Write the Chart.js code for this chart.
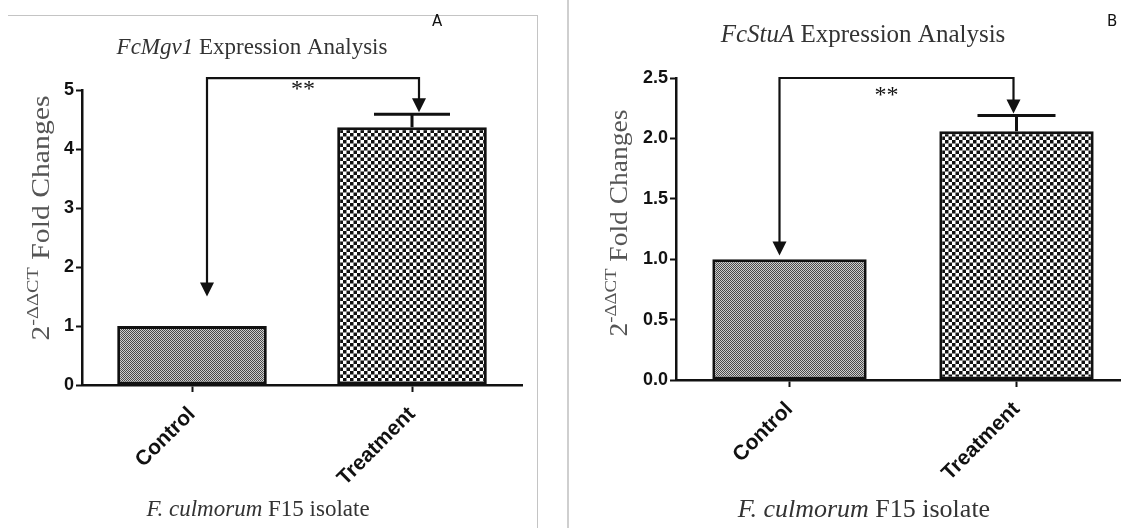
<!DOCTYPE html>
<html>
<head>
<meta charset="utf-8">
<script src="https://cdn.jsdelivr.net/npm/chart.js@4.4.0/dist/chart.umd.min.js"></script>
<style>
  html, body { margin: 0; padding: 0; background: #fff; width: 1121px; height: 528px; overflow: hidden; }
  canvas { position: absolute; top: 0; }
  #chartA { left: 0; }
  #chartB { left: 560px; }
  .frameA { position: absolute; left: 8px; top: 15px; width: 529px; height: 520px; border-top: 1px solid #c4c4c4; border-right: 1px solid #c4c4c4; }
  .frameB { position: absolute; left: 567px; top: 0; width: 0; height: 528px; border-left: 2px solid #cfcfcf; }
  .tag { position: absolute; top: 12px; font: 15px "DejaVu Sans", sans-serif; color: #111; }
</style>
</head>
<body>
<canvas id="chartA" width="545" height="528"></canvas>
<canvas id="chartB" width="580" height="528"></canvas>
<div class="frameA"></div>
<div class="frameB"></div>
<div class="tag" style="left:432px">A</div>
<div class="tag" style="left:1107px">B</div>

<script>
// data
const categories = ['Control', 'Treatment'];

const valuesA = [1.0, 4.37];
const errorsA = [0, 0.22];
const ticksA = [0, 1, 2, 3, 4, 5];
const bracketA = [5.2, 1.5];   // bracket height, tip of the left arrow

const valuesB = [1.0, 2.06];
const errorsB = [0, 0.13];
const ticksB = [0, 0.5, 1, 1.5, 2, 2.5];
const bracketB = [2.5, 1.03];

const sigLabel = '**';

// fill patterns
function makePattern(size, draw) {
  const c = document.createElement('canvas');
  c.width = size; c.height = size;
  const g = c.getContext('2d');
  draw(g);
  return g.createPattern(c, 'repeat');
}
const finePattern = makePattern(2, function(g) {
  g.fillStyle = '#cfcfcf'; g.fillRect(0, 0, 2, 2);
  g.fillStyle = '#4a4a4a'; g.fillRect(0, 0, 1, 1); g.fillRect(1, 1, 1, 1);
});
const coarsePattern = makePattern(7, function(g) {
  g.fillStyle = '#fff'; g.fillRect(0, 0, 7, 7);
  g.fillStyle = '#111'; g.fillRect(0, 0, 3.5, 3.5); g.fillRect(3.5, 3.5, 3.5, 3.5);
});

function drawRuns(ctx, runs, cx, cy) {
  let total = 0;
  runs.forEach(r => { ctx.font = r[1]; total += ctx.measureText(r[0]).width; });
  let x = cx - total / 2;
  ctx.textAlign = 'left';
  ctx.textBaseline = 'middle';
  runs.forEach(r => {
    ctx.font = r[1];
    ctx.fillText(r[0], x, cy);
    x += ctx.measureText(r[0]).width;
  });
}

function arrowDown(ctx, x, tipY, w, h) {
  ctx.beginPath();
  ctx.moveTo(x - w / 2, tipY - h);
  ctx.lineTo(x + w / 2, tipY - h);
  ctx.lineTo(x, tipY);
  ctx.closePath();
  ctx.fill();
}

// titles, error bars and the significance bracket
const extras = {
  id: 'extras',
  afterDraw(chart, args, o) {
    const ctx = chart.ctx;
    const x = chart.scales.x, y = chart.scales.y;
    const off = o.offset;
    ctx.save();

    // error bars
    ctx.strokeStyle = '#111';
    ctx.lineWidth = 3;
    o.values.forEach((v, i) => {
      const e = o.errors[i];
      if (!e) return;
      const cx = x.getPixelForValue(i);
      const top = y.getPixelForValue(v + e);
      ctx.beginPath();
      ctx.moveTo(cx, y.getPixelForValue(v));
      ctx.lineTo(cx, top);
      ctx.moveTo(cx - o.capHalf, top);
      ctx.lineTo(cx + o.capHalf, top);
      ctx.stroke();
    });

    // bracket with arrows
    const xl = x.getPixelForValue(0) + o.shiftL;
    const xr = x.getPixelForValue(1) + o.shiftR;
    const yt = y.getPixelForValue(o.bracket[0]);
    const tipL = y.getPixelForValue(o.bracket[1]);
    const tipR = y.getPixelForValue(o.values[1] + o.errors[1]) - 2;
    ctx.lineWidth = 2.2;
    ctx.beginPath();
    ctx.moveTo(xl, tipL - 10);
    ctx.lineTo(xl, yt);
    ctx.lineTo(xr, yt);
    ctx.lineTo(xr, tipR - 10);
    ctx.stroke();
    ctx.fillStyle = '#111';
    arrowDown(ctx, xl, tipL, 14, 14);
    arrowDown(ctx, xr, tipR, 14, 14);
    ctx.font = o.starFont;
    ctx.textAlign = 'center';
    ctx.textBaseline = 'top';
    ctx.fillText(sigLabel, (xl + xr) / 2 + o.starDx, yt + o.starDy);

    // chart title and x title
    ctx.fillStyle = '#333';
    drawRuns(ctx, [[o.gene, 'italic ' + o.titleFont], [' Expression Analysis', o.titleFont]], o.titlePos[0] - off, o.titlePos[1]);
    drawRuns(ctx, [['F. culmorum', 'italic ' + o.xTitleFont], [' F15 isolate', o.xTitleFont]], o.xTitlePos[0] - off, o.xTitlePos[1]);

    // y title: 2^-ΔΔCT Fold Changes
    ctx.translate(o.yTitlePos[0] - off, o.yTitlePos[1]);
    ctx.rotate(-Math.PI / 2);
    const big = o.yFont + 'px "Liberation Serif", serif';
    const small = Math.round(o.yFont * 0.68) + 'px "Liberation Serif", serif';
    ctx.font = big;
    const w1 = ctx.measureText('2').width, w3 = ctx.measureText(' Fold Changes').width;
    ctx.font = small;
    const w2 = ctx.measureText('-\u0394\u0394CT').width;
    const k = o.yLen / (w1 + w2 + w3);
    ctx.scale(k, 1);
    let px = -(w1 + w2 + w3) / 2;
    ctx.fillStyle = '#555';
    ctx.textAlign = 'left';
    ctx.textBaseline = 'alphabetic';
    ctx.font = big; ctx.fillText('2', px, o.yFont * 0.35); px += w1;
    ctx.font = small; ctx.fillText('-\u0394\u0394CT', px, o.yFont * 0.35 - o.yFont * 0.42); px += w2;
    ctx.font = big; ctx.fillText(' Fold Changes', px, o.yFont * 0.35);
    ctx.restore();
  }
};

function makeChart(id, values, errors, ticks, bracket, p) {
  const canvas = document.getElementById(id);
  return new Chart(canvas.getContext('2d'), {
    type: 'bar',
    data: {
      labels: categories,
      datasets: [{
        data: values,
        backgroundColor: [finePattern, coarsePattern],
        borderColor: '#111',
        borderWidth: 3,
        borderSkipped: false,
        barPercentage: 0.68,
        categoryPercentage: 1
      }]
    },
    options: {
      responsive: false,
      animation: false,
      layout: { padding: { top: p.top, left: 0, right: p.right, bottom: 0 } },
      plugins: {
        legend: { display: false },
        tooltip: { enabled: false },
        extras: {
          values: values, errors: errors, bracket: bracket,
          offset: p.offset, gene: p.gene, titleFont: p.titleFont, xTitleFont: p.xTitleFont,
          titlePos: p.titlePos, xTitlePos: p.xTitlePos, yTitlePos: p.yTitlePos,
          yFont: p.yFont, yLen: p.yLen, capHalf: p.capHalf,
          shiftL: p.shiftL, shiftR: p.shiftR,
          starFont: p.starFont, starDx: p.starDx, starDy: p.starDy
        }
      },
      scales: {
        x: {
          offset: true,
          afterFit: s => { s.height = p.xHeight; },
          border: { color: '#111', width: 2.5 },
          grid: { drawOnChartArea: false, offset: false, tickLength: 7, tickColor: '#111', tickWidth: 2 },
          ticks: {
            autoSkip: false, minRotation: 45, maxRotation: 45, padding: 10,
            color: '#111', font: { family: '"Liberation Sans", Arial, sans-serif', weight: 'bold', size: 21 }
          }
        },
        y: {
          min: ticks[0],
          max: ticks[ticks.length - 1],
          afterFit: s => { s.width = p.yWidth; },
          afterBuildTicks: s => { s.ticks = ticks.map(v => ({ value: v })); },
          border: { color: '#111', width: 2.5 },
          grid: { drawOnChartArea: false, tickLength: 6, tickColor: '#111', tickWidth: 2 },
          ticks: {
            padding: 2,
            color: '#111',
            font: { family: '"Liberation Sans", Arial, sans-serif', weight: 'bold', size: 18 },
            callback: v => v.toFixed(p.decimals)
          }
        }
      }
    },
    plugins: [extras]
  });
}

makeChart('chartA', valuesA, errorsA, ticksA, bracketA, {
  offset: 0, top: 90, right: 23, yWidth: 82, xHeight: 143,
  gene: 'FcMgv1', titleFont: '23px "Liberation Serif", serif', xTitleFont: '23px "Liberation Serif", serif',
  titlePos: [252, 48], xTitlePos: [258, 510], yTitlePos: [40, 218],
  yFont: 25, yLen: 245, decimals: 0, capHalf: 38,
  shiftL: 15, shiftR: 7, starFont: '24px "Liberation Serif", serif', starDx: -10, starDy: 0
});

makeChart('chartB', valuesB, errorsB, ticksB, bracketB, {
  offset: 560, top: 78, right: 10, yWidth: 116, xHeight: 148,
  gene: 'FcStuA', titleFont: '25px "Liberation Serif", serif', xTitleFont: '26px "Liberation Serif", serif',
  titlePos: [863, 35], xTitlePos: [864, 510], yTitlePos: [618, 223],
  yFont: 25, yLen: 227, decimals: 1, capHalf: 39,
  shiftL: -10, shiftR: -3, starFont: '24px "Liberation Serif", serif', starDx: -10, starDy: 6
});
</script>
</body>
</html>
